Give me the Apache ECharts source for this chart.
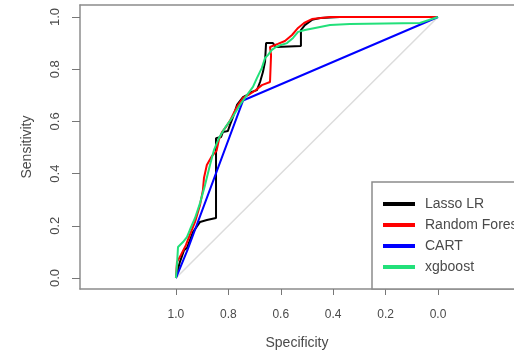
<!DOCTYPE html>
<html>
<head>
<meta charset="utf-8">
<script src="https://cdn.jsdelivr.net/npm/echarts@6/dist/echarts.min.js"></script>
<style>
  html, body { margin: 0; padding: 0; background: #fff; }
  #chart { width: 514px; height: 351px; }
</style>
</head>
<body>
<div id="chart"></div>
<script>
// ROC curves, points are [specificity, sensitivity]
const lassoLR = [
  [1.000, 0.000], [0.985, 0.061], [0.969, 0.107], [0.958, 0.115], [0.935, 0.176],
  [0.908, 0.215], [0.882, 0.222], [0.847, 0.230], [0.847, 0.536], [0.828, 0.540],
  [0.821, 0.559], [0.802, 0.563], [0.794, 0.586], [0.782, 0.617], [0.767, 0.663],
  [0.744, 0.693], [0.729, 0.701], [0.710, 0.713], [0.691, 0.720], [0.679, 0.751],
  [0.668, 0.789], [0.660, 0.828], [0.656, 0.900], [0.630, 0.900], [0.618, 0.885],
  [0.523, 0.889], [0.523, 0.950], [0.508, 0.969], [0.481, 0.989], [0.450, 0.996],
  [0.374, 1.000], [0.000, 1.000]
]
const randomForest = [
  [1.000, 0.000], [0.996, 0.061], [0.981, 0.088], [0.962, 0.126], [0.947, 0.165],
  [0.927, 0.215], [0.908, 0.280], [0.897, 0.337], [0.893, 0.383], [0.882, 0.433],
  [0.863, 0.467], [0.845, 0.487], [0.836, 0.530], [0.824, 0.559], [0.809, 0.579],
  [0.794, 0.602], [0.779, 0.632], [0.763, 0.663], [0.744, 0.690], [0.718, 0.705],
  [0.695, 0.720], [0.672, 0.739], [0.641, 0.751], [0.637, 0.854], [0.641, 0.885],
  [0.611, 0.897], [0.584, 0.908], [0.557, 0.931], [0.534, 0.958], [0.511, 0.977],
  [0.481, 0.992], [0.412, 1.000], [0.000, 1.000]
]
const cart = [
  [1.000, 0.000], [0.955, 0.110], [0.744, 0.680], [0.000, 1.000]
]
const xgboost = [
  [1.000, 0.000], [0.996, 0.050], [0.992, 0.119], [0.973, 0.138], [0.958, 0.157],
  [0.947, 0.184], [0.927, 0.230], [0.908, 0.287], [0.889, 0.356], [0.870, 0.433],
  [0.855, 0.490], [0.836, 0.536], [0.813, 0.575], [0.786, 0.613], [0.756, 0.663],
  [0.729, 0.701], [0.706, 0.732], [0.691, 0.766], [0.672, 0.805], [0.660, 0.843],
  [0.649, 0.854], [0.634, 0.874], [0.618, 0.885], [0.599, 0.893], [0.576, 0.900],
  [0.553, 0.920], [0.534, 0.943], [0.508, 0.950], [0.469, 0.958], [0.412, 0.969],
  [0.336, 0.973], [0.069, 0.977], [0.000, 1.000]
]
const chanceLine = [[1, 0], [0, 1]]

const seriesNames = ['Lasso LR', 'Random Forest', 'CART', 'xgboost']
const seriesColors = ['#000000', '#ff0000', '#0000ff', '#22e07a']
const tickValues = [0, 0.2, 0.4, 0.6, 0.8, 1.0]

const myChart = echarts.init(document.getElementById('chart'))
const textColor = '#4a4a4a'
const frameColor = '#8c8c8c'
const curves = [lassoLR, randomForest, cart, xgboost]

const xRange = {min: -0.29, max: 1.366}

const option = {
  animation: false,
  backgroundColor: '#fff',
  textStyle: {fontFamily: 'Liberation Sans, Arial, sans-serif'},
  grid: {left: 80, top: 5, right: 0, bottom: 62, outerBoundsMode: 'none', containLabel: false},
  legend: {
    data: seriesNames.map(n => ({name: n, icon: 'rect'})),
    orient: 'vertical',
    left: 372, top: 182,
    itemWidth: 32, itemHeight: 4, itemGap: 7,
    padding: [15, 40, 15, 11],
    borderColor: frameColor, borderWidth: 1.5,
    backgroundColor: '#fff',
    textStyle: {color: textColor, fontSize: 14, padding: [0, 0, 0, 5]},
    selectedMode: false
  },
  xAxis: [
    {
      type: 'value', inverse: true, min: xRange.min, max: xRange.max,
      name: 'Specificity', nameLocation: 'middle', nameGap: 47,
      nameTextStyle: {color: textColor, fontSize: 14},
      axisLine: {show: true, onZero: false, lineStyle: {color: frameColor, width: 1.5}},
      splitLine: {show: false},
      axisTick: {show: true, customValues: tickValues, length: 6, lineStyle: {color: '#777', width: 1}},
      axisLabel: {
        customValues: tickValues, margin: 20, color: textColor, fontSize: 12,
        formatter: v => v.toFixed(1)
      }
    },
    {
      // top edge of the plot box
      type: 'value', position: 'top', inverse: true, min: xRange.min, max: xRange.max,
      axisLine: {show: true, onZero: false, lineStyle: {color: frameColor, width: 1.5}},
      axisTick: {show: false}, axisLabel: {show: false}, splitLine: {show: false}
    }
  ],
  yAxis: {
    type: 'value', min: -0.042, max: 1.046,
    name: 'Sensitivity', nameLocation: 'middle', nameGap: 46,
    nameTextStyle: {color: textColor, fontSize: 14},
    axisLine: {show: true, onZero: false, lineStyle: {color: frameColor, width: 1.5}},
    splitLine: {show: false},
    axisTick: {show: true, customValues: tickValues, length: 8, lineStyle: {color: '#777', width: 1}},
    axisLabel: {
      customValues: tickValues, margin: 18, color: textColor, fontSize: 13, rotate: 90,
      formatter: v => v.toFixed(1)
    }
  },
  series: [
    {
      name: 'chance', type: 'line', data: chanceLine, showSymbol: false, silent: true,
      lineStyle: {color: '#dcdcdc', width: 1.5}
    }
  ].concat(curves.map((d, i) => ({
    name: seriesNames[i],
    type: 'line',
    data: d,
    showSymbol: false,
    color: seriesColors[i],
    lineStyle: {color: seriesColors[i], width: 2}
  })))
}
myChart.setOption(option)
</script>
</body>
</html>
